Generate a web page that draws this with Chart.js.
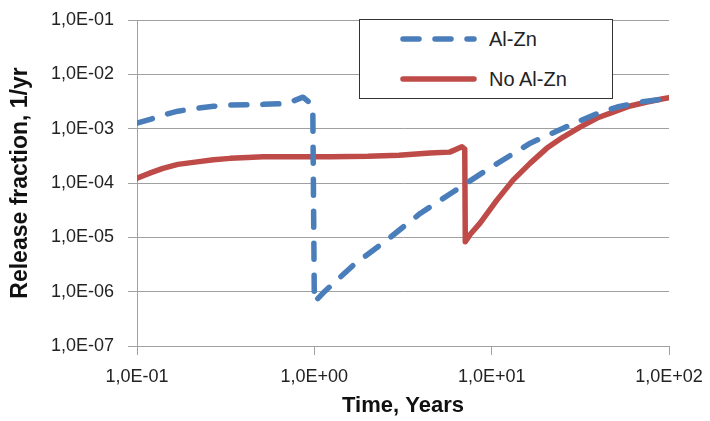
<!DOCTYPE html>
<html>
<head>
<meta charset="utf-8">
<script src="https://cdn.jsdelivr.net/npm/chart.js@4/dist/chart.umd.min.js"></script>
<style>
  body { margin: 0; background: #fff; }
  #wrap { position: relative; width: 710px; height: 421px; }
  #legend {
    position: absolute; left: 359px; top: 19px; width: 252px; height: 78px;
    border: 1px solid #333; background: #fff;
    font-family: "Liberation Sans", Arial, sans-serif; font-size: 20px; color: #222;
  }
  #legend .row { position: absolute; left: 0; height: 20px; }
  #legend svg { position: absolute; left: 40px; top: 0; }
  #legend span { position: absolute; left: 129px; top: 0; line-height: 20px; white-space: nowrap; }
</style>
</head>
<body>
<div id="wrap">
  <canvas id="chart"></canvas>
  <div id="legend"></div>
</div>
<script>
// data (x in years, y in 1/yr)
const SERIES_NAMES = ["Al-Zn", "No Al-Zn"];
const COLORS = ["#4a7ebb", "#be4b48"];

const alzn_x = [0.1, 0.12, 0.14, 0.17, 0.218, 0.27, 0.335, 0.514, 0.70, 0.863, 0.98, 1.0, 1.14, 1.66, 2.56, 3.95, 6.08, 9.37, 16.5, 25.3, 31.5, 41, 51, 70, 100];
const alzn_y = [1.26e-3, 1.5e-3, 1.78e-3, 2.1e-3, 2.37e-3, 2.58e-3, 2.72e-3, 2.8e-3, 2.9e-3, 3.8e-3, 2.7e-3, 6.4e-7, 1.0e-6, 3.08e-6, 8.87e-6, 2.75e-5, 6.9e-5, 1.73e-4, 5.4e-4, 1.02e-3, 1.4e-3, 2.0e-3, 2.5e-3, 3.1e-3, 3.6e-3];

const noalzn_x = [0.1, 0.12, 0.14, 0.17, 0.218, 0.27, 0.335, 0.42, 0.514, 1.23, 2, 3, 4.49, 5.8, 6.8, 7.05, 7.1, 7.6, 8.6, 10.7, 13.2, 16.5, 20.5, 25.3, 31.5, 39.3, 48.4, 60.3, 75.2, 92.6, 100];
const noalzn_y = [1.22e-4, 1.55e-4, 1.86e-4, 2.2e-4, 2.45e-4, 2.68e-4, 2.84e-4, 2.96e-4, 3.04e-4, 3.04e-4, 3.1e-4, 3.25e-4, 3.55e-4, 3.7e-4, 4.65e-4, 4.2e-4, 8.3e-6, 1.15e-5, 1.83e-5, 4.84e-5, 1.13e-4, 2.32e-4, 4.39e-4, 7.0e-4, 1.07e-3, 1.57e-3, 2.02e-3, 2.61e-3, 3.09e-3, 3.55e-3, 3.7e-3];

const X_TICKS = [0.1, 1, 10, 100];
const X_TICK_LABELS = ["1,0E-01", "1,0E+00", "1,0E+01", "1,0E+02"];
const Y_TICKS = [1e-7, 1e-6, 1e-5, 1e-4, 1e-3, 1e-2, 1e-1];
const Y_TICK_LABELS = ["1,0E-07", "1,0E-06", "1,0E-05", "1,0E-04", "1,0E-03", "1,0E-02", "1,0E-01"];

const FONT = "'Liberation Sans', Arial, sans-serif";

function toPoints(xs, ys) {
  return xs.map((x, i) => ({ x: x, y: ys[i] }));
}

const datasets = [
  {
    label: SERIES_NAMES[0],
    data: toPoints(alzn_x, alzn_y),
    borderColor: COLORS[0],
    borderWidth: 5.5,
    borderDash: [16, 16],
    borderCapStyle: "round",
    borderJoinStyle: "round",
    pointRadius: 0,
    tension: 0,
    fill: false,
  },
  {
    label: SERIES_NAMES[1],
    data: toPoints(noalzn_x, noalzn_y),
    borderColor: COLORS[1],
    borderWidth: 5.5,
    borderCapStyle: "round",
    borderJoinStyle: "round",
    pointRadius: 0,
    tension: 0,
    fill: false,
  },
];

new Chart("chart", {
  type: "line",
  data: { datasets },
  options: {
    responsive: true,
    maintainAspectRatio: false,
    animation: false,
    layout: { padding: { top: 20, right: 41, left: 0, bottom: 0 } },
    plugins: {
      legend: { display: false },
      tooltip: { enabled: false },
    },
    scales: {
      x: {
        type: "logarithmic",
        min: 0.1,
        max: 100,
        afterBuildTicks: (scale) => { scale.ticks = X_TICKS.map((v) => ({ value: v })); },
        afterFit: (scale) => {
          scale.height = 75;
          scale.paddingLeft = 0;
          scale.paddingRight = 0;
        },
        ticks: {
          autoSkip: false,
          maxRotation: 0,
          padding: 11,
          color: "#222",
          font: { family: FONT, size: 18 },
          callback: (v, i) => X_TICK_LABELS[i],
        },
        grid: { drawOnChartArea: false, drawTicks: true, tickLength: 9, color: "#a0a0a0" },
        border: { color: "#a0a0a0" },
        title: {
          display: true,
          text: "Time, Years",
          color: "#111",
          font: { family: FONT, size: 22, weight: "bold" },
          padding: { top: 0, bottom: 2 },
        },
      },
      y: {
        type: "logarithmic",
        min: 1e-7,
        max: 1e-1,
        afterBuildTicks: (scale) => { scale.ticks = Y_TICKS.map((v) => ({ value: v })); },
        afterFit: (scale) => {
          scale.width = 137;
          scale.paddingTop = 0;
          scale.paddingBottom = 0;
        },
        ticks: {
          autoSkip: false,
          padding: 14,
          color: "#222",
          font: { family: FONT, size: 18 },
          callback: (v, i) => Y_TICK_LABELS[i],
        },
        grid: { drawTicks: true, tickLength: 9, color: "#a0a0a0" },
        border: { color: "#a0a0a0" },
        title: {
          display: true,
          text: "Release fraction, 1/yr",
          color: "#111",
          font: { family: FONT, size: 23, weight: "bold" },
          padding: { top: 7, bottom: 0 },
        },
      },
    },
  },
});

// legend box sitting inside the plot, like the original
const legend = document.getElementById("legend");
SERIES_NAMES.forEach((name, i) => {
  const row = document.createElement("div");
  row.className = "row";
  row.style.top = (i === 0 ? 9 : 49) + "px";
  row.style.width = "100%";
  const dash = i === 0 ? 'stroke-dasharray="16 16"' : "";
  row.innerHTML =
    '<svg width="80" height="20"><line x1="3" y1="10" x2="74" y2="10" stroke="' + COLORS[i] +
    '" stroke-width="5.5" stroke-linecap="round" ' + dash + "/></svg><span>" + name + "</span>";
  legend.appendChild(row);
});
</script>
</body>
</html>
